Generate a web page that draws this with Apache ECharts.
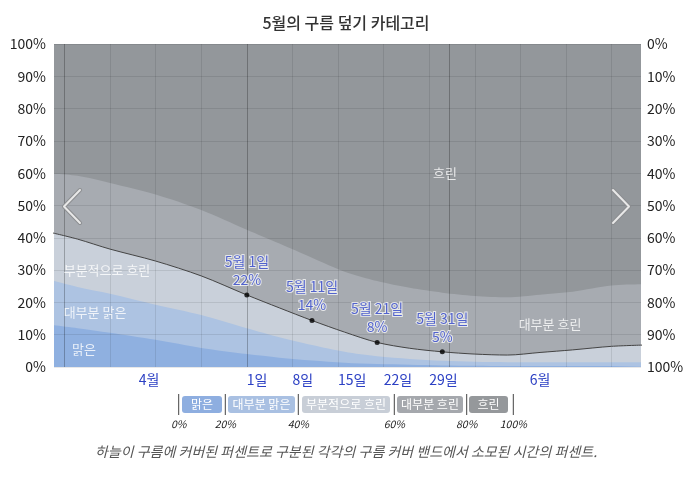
<!DOCTYPE html>
<html>
<head>
<meta charset="utf-8">
<script src="https://cdn.jsdelivr.net/npm/echarts@6/dist/echarts.min.js"></script>
<style>html,body{margin:0;padding:0;background:#fff;}#c{width:692px;height:478px;}</style>
</head>
<body>
<div id="c"></div>
<script>
// Days counted from 1 April (day 0)
const days = [0, 4, 9, 16, 23, 30, 35, 40, 45, 50, 55, 60, 65, 70, 75, 80, 86, 91];
// Share of time in each cloud-cover band (%)
const clear        = [13.0, 12.0, 10.6, 8.4, 5.9, 4.0, 2.9, 2.0, 1.3, 0.9, 0.7, 0.5, 0.4, 0.3, 0.3, 0.3, 0.3, 0.3];
const mostlyClear  = [13.8, 12.8, 12.1, 10.9, 10.2, 8.0, 6.3, 4.8, 3.4, 2.4, 1.8, 1.4, 1.2, 1.2, 1.2, 1.2, 1.2, 1.2];
const partlyCloudy = [14.8, 14.8, 13.8, 13.5, 12.1, 10.3, 9.1, 7.6, 6.1, 4.3, 3.3, 2.8, 2.4, 2.2, 3.0, 3.8, 4.9, 5.3];
const mostlyCloudy = [18.3, 19.6, 20.5, 20.6, 20.4, 20.2, 19.9, 19.4, 18.7, 19.0, 18.7, 18.3, 18.0, 17.9, 17.9, 18.0, 18.8, 18.8];
const overcast     = [40.1, 40.8, 43.0, 46.6, 51.4, 57.5, 61.8, 66.2, 70.5, 73.4, 75.5, 77.0, 78.0, 78.4, 77.6, 76.7, 74.8, 74.4];

const bandNames  = ['맑은', '대부분 맑은', '부분적으로 흐린', '대부분 흐린', '흐린'];
const bandColors = ['#8fb0e0', '#adc3e2', '#c9d0da', '#a7abb1', '#93979b'];

// Highlighted points on the clear/mostly clear/partly cloudy line
const markDays   = [30, 40, 50, 60];
const markValues = [22.3, 14.4, 7.6, 4.7];
const markNames  = ['5월 1일', '5월 11일', '5월 21일', '5월 31일'];

// Axis ticks
const dayTicks = [30, 37, 44, 51, 58];
const dayTickLabels = ['1일', '8일', '15일', '22일', '29일'];
const monthTicks = [15, 75];
const monthTickLabels = ['4월', '6월'];
const weekLines = [9, 16, 23, 37, 44, 51, 58, 65, 72, 79, 86];
const monthLines = [2, 30, 61];

// Legend scale
const legendTicks = ['0%', '20%', '40%', '60%', '80%', '100%'];

const FONT = '"Noto Sans CJK KR", "Noto Sans", sans-serif';
const BLUE = '#2c40c4';

const bands = [clear, mostlyClear, partlyCloudy, mostlyCloudy, overcast];
// cumulative tops of each band
const cum = bands.map((_, k) => days.map((d, i) => {
  let s = 0;
  for (let j = 0; j <= k; j++) s += bands[j][i];
  return +s.toFixed(2);
}));
const lineTop = cum[2];

const chart = echarts.init(document.getElementById('c'), null, {renderer: 'canvas'});

// draw from the top band down so lower bands paint over higher ones
const areaSeries = [4, 3, 2, 1, 0].map(k => ({
  name: bandNames[k],
  type: 'line',
  smooth: 0.3,
  symbol: 'none',
  z: 2,
  silent: true,
  lineStyle: {width: 0},
  areaStyle: {color: bandColors[k], opacity: 1, origin: 'start'},
  data: days.map((d, i) => [d, cum[k][i]])
}));

// legend graphic
const legendX = [178.7, 225.3, 298.3, 394.3, 466.7, 513.3];
const chipX = [[182, 222], [228, 295], [302, 390], [397, 463], [469, 508]];
const legendColors = ['#8eaee0', '#a9c0e2', '#c8ced7', '#a5a8ad', '#95989b'];
const graphics = [];
legendX.forEach((x, i) => {
  graphics.push({type: 'line', shape: {x1: x, y1: 394, x2: x, y2: 415}, style: {stroke: '#444', lineWidth: 1}});
  graphics.push({type: 'text', x: x, y: 424, style: {text: legendTicks[i], fill: '#222', font: 'italic 10.5px ' + FONT, align: 'center', verticalAlign: 'middle'}});
});
chipX.forEach((c, i) => {
  graphics.push({type: 'rect', shape: {x: c[0], y: 396, width: c[1] - c[0], height: 17, r: 3}, style: {fill: legendColors[i]}});
  graphics.push({type: 'text', x: (c[0] + c[1]) / 2, y: 404.5, style: {text: bandNames[i], fill: '#fff', font: '12px ' + FONT, align: 'center', verticalAlign: 'middle'}});
});
// band labels inside the plot
const inLabels = [
  ['부분적으로 흐린', 107, 270], ['대부분 맑은', 95, 312], ['맑은', 84, 349],
  ['흐린', 445, 173], ['대부분 흐린', 550, 324]
];
inLabels.forEach(l => {
  graphics.push({type: 'text', x: l[1], y: l[2], z: 20, style: {text: l[0], fill: 'rgba(255,255,255,0.8)', font: '13px ' + FONT, align: 'center', verticalAlign: 'middle'}});
});
// chevrons
[[[80, 190], [64, 206.5], [80, 223]], [[613, 190], [629, 206.5], [613, 223]]].forEach(p => {
  graphics.push({type: 'polyline', z: 20, shape: {points: p}, style: {stroke: '#8c8e91', lineWidth: 4, fill: null, lineJoin: 'round', lineCap: 'round'}});
  graphics.push({type: 'polyline', z: 21, shape: {points: p}, style: {stroke: '#e8e8e8', lineWidth: 2, fill: null, lineJoin: 'round', lineCap: 'round'}});
});
// caption
graphics.push({type: 'text', x: 346, y: 452, style: {text: '하늘이 구름에 커버된 퍼센트로 구분된 각각의 구름 커버 밴드에서 소모된 시간의 퍼센트.', fill: '#555', font: 'italic 14px ' + FONT, align: 'center', verticalAlign: 'middle'}});

const option = {
  animation: false,
  backgroundColor: '#fff',
  textStyle: {fontFamily: FONT},
  title: {
    text: '5월의 구름 덮기 카테고리', left: 'center', top: 10,
    textStyle: {fontSize: 16, fontWeight: 500, color: '#333', fontFamily: FONT}
  },
  grid: {left: 54, right: 51, top: 44, bottom: 111},
  xAxis: [{
    type: 'value', min: 0.4, max: 90.5, position: 'bottom',
    axisLine: {show: false}, axisTick: {show: false}, splitLine: {show: false},
    axisLabel: {
      customValues: dayTicks, align: 'left', margin: 6, color: BLUE, fontSize: 14, fontFamily: FONT,
      formatter: v => dayTickLabels[dayTicks.indexOf(v)] || ''
    }
  }, {
    type: 'value', min: 0.4, max: 90.5, position: 'bottom',
    axisLine: {show: false}, axisTick: {show: false}, splitLine: {show: false},
    axisLabel: {
      customValues: monthTicks, align: 'center', margin: 6, color: BLUE, fontSize: 14, fontFamily: FONT,
      formatter: v => monthTickLabels[monthTicks.indexOf(v)] || ''
    }
  }],
  yAxis: [{
    type: 'value', min: 0, max: 100, interval: 10, position: 'left', z: 3,
    axisLine: {show: false}, axisTick: {show: false},
    splitLine: {show: true, lineStyle: {color: 'rgba(0,0,0,0.09)', width: 1}},
    axisLabel: {formatter: '{value}%', color: '#222', fontSize: 14, margin: 8, fontFamily: FONT}
  }, {
    type: 'value', min: 0, max: 100, interval: 10, position: 'right', inverse: true,
    axisLine: {show: false}, axisTick: {show: false}, splitLine: {show: false},
    axisLabel: {formatter: '{value}%', color: '#222', fontSize: 14, margin: 6, fontFamily: FONT}
  }],
  series: areaSeries.concat([
    {
      type: 'line', data: [], z: 4, silent: true,
      markLine: {
        symbol: 'none', silent: true, label: {show: false},
        data: weekLines.map(d => ({xAxis: d, lineStyle: {color: 'rgba(0,0,0,0.09)', width: 1, type: 'solid'}}))
          .concat(monthLines.map(d => ({xAxis: d, lineStyle: {color: 'rgba(0,0,0,0.25)', width: 1, type: 'solid'}})))
      }
    },
    {
      type: 'line', z: 5, smooth: 0.3, symbol: 'none', silent: true,
      lineStyle: {color: '#444', width: 1},
      data: days.map((d, i) => [d, lineTop[i]])
    },
    {
      type: 'scatter', z: 6, symbolSize: 5, itemStyle: {color: '#000'},
      data: markDays.map((d, i) => ({value: [d, markValues[i]], name: markNames[i]})),
      label: {
        show: true, position: 'top', distance: 4,
        formatter: p => p.name + '\n' + Math.round(p.value[1]) + '%',
        color: BLUE, fontSize: 14, lineHeight: 18, align: 'center',
        textBorderColor: 'rgba(255,255,255,0.9)', textBorderWidth: 2, fontFamily: FONT
      }
    }
  ]),
  graphic: graphics
};
chart.setOption(option);
</script>
</body>
</html>
